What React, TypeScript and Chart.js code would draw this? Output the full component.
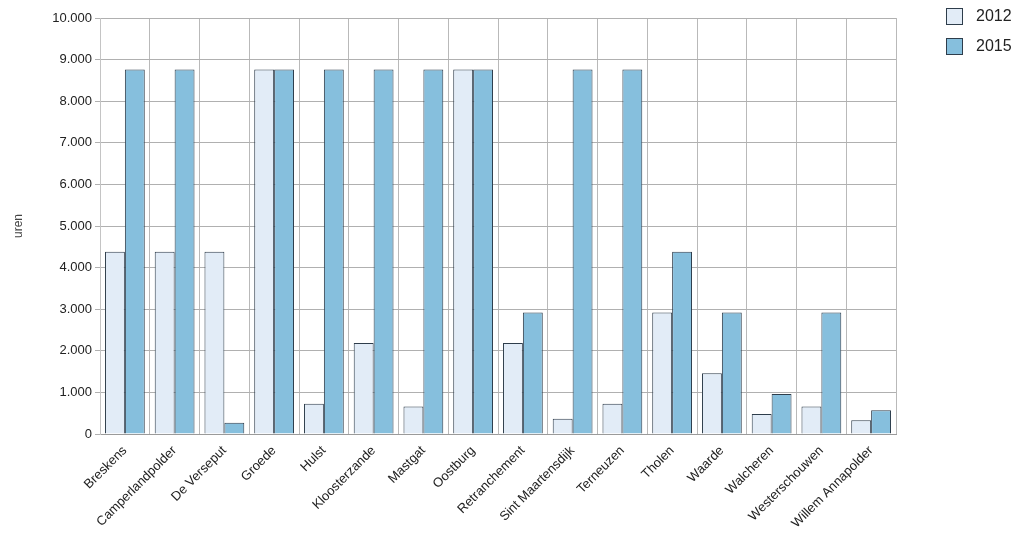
import React, { useEffect, useRef } from "react";
import { Chart, registerables } from "chart.js";

Chart.register(...registerables);

const categories = [
  "Breskens",
  "Camperlandpolder",
  "De Verseput",
  "Groede",
  "Hulst",
  "Kloosterzande",
  "Mastgat",
  "Oostburg",
  "Retranchement",
  "Sint Maartensdijk",
  "Terneuzen",
  "Tholen",
  "Waarde",
  "Walcheren",
  "Westerschouwen",
  "Willem Annapolder",
];

const values2012 = [4380, 4380, 4380, 8760, 730, 2190, 660, 8760, 2190, 365, 730, 2920, 1460, 480, 660, 330];
const values2015 = [8760, 8760, 270, 8760, 8760, 8760, 8760, 8760, 2920, 8760, 8760, 4380, 2920, 960, 2920, 570];

const seriesLabels = ["2012", "2015"];
const yTicks = [0, 1000, 2000, 3000, 4000, 5000, 6000, 7000, 8000, 9000, 10000];
const yTitle = "uren";

const colors2012 = "#e2ecf7";
const colors2015 = "#86bfdd";
const borderCol = "#2e3d4b";

function fmt(v: number): string {
  const s = Math.round(v).toString();
  return s.replace(/\B(?=(\d{3})+(?!\d))/g, ".");
}

const legendPlugin = {
  id: "customLegend",
  afterDraw(chart: any) {
    const ctx = chart.ctx;
    const fills = [colors2012, colors2015];
    ctx.save();
    seriesLabels.forEach((lbl, i) => {
      const x = 946;
      const y = 8 + i * 30;
      ctx.fillStyle = fills[i];
      ctx.fillRect(x, y, 16, 16);
      ctx.strokeStyle = borderCol;
      ctx.lineWidth = 1;
      ctx.strokeRect(x + 0.5, y + 0.5, 16, 16);
      ctx.fillStyle = "#222";
      ctx.font = "16px Arial, 'Liberation Sans', sans-serif";
      ctx.textBaseline = "middle";
      ctx.textAlign = "left";
      ctx.fillText(lbl, 976, y + 9);
    });
    ctx.restore();
  },
};

export default function App() {
  const canvasRef = useRef<HTMLCanvasElement | null>(null);

  useEffect(() => {
    if (!canvasRef.current) return;
    const chart = new Chart(canvasRef.current, {
      type: "bar",
      data: {
        labels: categories,
        datasets: [
          {
            label: seriesLabels[0],
            data: values2012,
            backgroundColor: colors2012,
            borderColor: borderCol,
            borderWidth: 1,
            categoryPercentage: 0.8,
            barPercentage: 1.0,
          },
          {
            label: seriesLabels[1],
            data: values2015,
            backgroundColor: colors2015,
            borderColor: borderCol,
            borderWidth: 1,
            categoryPercentage: 0.8,
            barPercentage: 1.0,
          },
        ],
      },
      options: {
        animation: false,
        responsive: true,
        maintainAspectRatio: false,
        layout: { padding: { left: 0, right: 128, top: 18, bottom: 0 } },
        plugins: {
          legend: { display: false },
          tooltip: { enabled: false },
        },
        scales: {
          x: {
            grid: {
              display: true,
              offset: true,
              color: "#b9b9b9",
              drawTicks: false,
            },
            border: { display: true, color: "#9a9a9a" },
            ticks: {
              autoSkip: false,
              minRotation: 45,
              maxRotation: 45,
              padding: 9,
              color: "#222",
              font: { family: "Arial, 'Liberation Sans', sans-serif", size: 13 },
            },
            afterFit: (scale: any) => {
              scale.height = 108;
            },
          },
          y: {
            min: 0,
            max: 10000,
            afterBuildTicks: (scale: any) => {
              scale.ticks = yTicks.map((v) => ({ value: v }));
            },
            grid: {
              color: "#b0b0b0",
              drawTicks: true,
              tickLength: 5,
            },
            border: { display: true, color: "#c4c4c4" },
            ticks: {
              padding: 3,
              color: "#222",
              font: { family: "Arial, 'Liberation Sans', sans-serif", size: 13 },
              callback: (v: any) => fmt(Number(v)),
            },
            title: {
              display: true,
              text: yTitle,
              color: "#444",
              font: { family: "Arial, 'Liberation Sans', sans-serif", size: 12 },
              padding: { top: 11, bottom: 4 },
            },
            afterFit: (scale: any) => {
              scale.width = 100;
            },
          },
        },
      },
      plugins: [legendPlugin],
    });
    return () => chart.destroy();
  }, []);

  return (
    <div style={{ position: "fixed", left: 0, top: 0, width: 1024, height: 542, background: "#fff" }}>
      <canvas ref={canvasRef} />
    </div>
  );
}
